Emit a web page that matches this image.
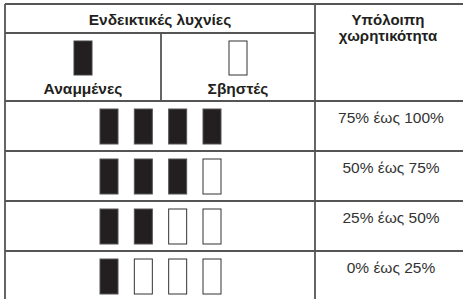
<!DOCTYPE html>
<html>
<head>
<meta charset="utf-8">
<script src="https://cdn.jsdelivr.net/npm/d3@7"></script>
<style>
  body { margin: 0; background: #fff; }
</style>
</head>
<body>
<div class="canvas"></div>
<script>
// table content
const headerTitle = "Ενδεικτικές λυχνίες";
const capacityTitle = ["Υπόλοιπη", "χωρητικότητα"];
const legendLabels = ["Αναμμένες", "Σβηστές"];
const litCounts = [4, 3, 2, 1];
const capacityLabels = ["75% έως 100%", "50% έως 75%", "25% έως 50%", "0% έως 25%"];
const lampSlots = [0, 1, 2, 3];

const width = 463;
const height = 299;
const lineColor = "#555555";
const lampFill = "#231f20";
const font = "'Liberation Sans', Arial, sans-serif";

const svg = d3
  .select(".canvas")
  .append("svg")
  .attr("width", width)
  .attr("height", height);

const leftX = 5;
const splitX = 161;
const capX = 315;
const topY = 4;
const headY = 33;
const subY = 101;

// rows
const yScale = d3
  .scaleBand()
  .domain(capacityLabels)
  .range([subY, subY + 50 * capacityLabels.length]);

const xLamp = d3
  .scaleLinear()
  .domain([0, 3])
  .range([100, 203]);

const lampW = 18;
const lampH = 35;

const grid = svg.append("g");

function hline(x1, x2, y) {
  grid
    .append("line")
    .attr("x1", x1)
    .attr("x2", x2)
    .attr("y1", y)
    .attr("y2", y)
    .attr("stroke", lineColor)
    .attr("stroke-width", 1.8);
}
function vline(x, y1, y2) {
  grid
    .append("line")
    .attr("x1", x)
    .attr("x2", x)
    .attr("y1", y1)
    .attr("y2", y2)
    .attr("stroke", lineColor)
    .attr("stroke-width", 1.8);
}

hline(leftX, width, topY);
hline(leftX, capX, headY);
hline(leftX, width, subY);
capacityLabels.slice(1).forEach((d) => hline(leftX, width, yScale(d)));
vline(leftX, topY, height + 5);
vline(capX, topY, height + 5);
vline(splitX, headY, subY);

// header texts
svg
  .append("text")
  .text(headerTitle)
  .attr("x", (leftX + capX) / 2)
  .attr("y", 25)
  .attr("text-anchor", "middle")
  .attr("font-family", font)
  .attr("font-weight", "bold")
  .attr("font-size", 15.5)
  .attr("fill", "#231f20");

svg
  .selectAll(".capTitle")
  .data(capacityTitle)
  .enter()
  .append("text")
  .text((d) => d)
  .attr("x", 388)
  .attr("y", (d, i) => 25 + i * 16)
  .attr("text-anchor", "middle")
  .attr("font-family", font)
  .attr("font-weight", "bold")
  .attr("font-size", 15)
  .attr("fill", "#231f20");

// legend lamps
const legendX = [(leftX + splitX) / 2, (splitX + capX) / 2];
svg
  .selectAll(".legLamp")
  .data(legendLabels)
  .enter()
  .append("rect")
  .attr("x", (d, i) => legendX[i] - lampW / 2)
  .attr("y", 41)
  .attr("width", lampW)
  .attr("height", 34)
  .attr("fill", (d, i) => (i === 0 ? lampFill : "#fff"))
  .attr("stroke", (d, i) => (i === 0 ? "#444" : "#333"))
  .attr("stroke-width", 1);

svg
  .selectAll(".legText")
  .data(legendLabels)
  .enter()
  .append("text")
  .text((d) => d)
  .attr("x", (d, i) => legendX[i])
  .attr("y", 94)
  .attr("text-anchor", "middle")
  .attr("font-family", font)
  .attr("font-weight", "bold")
  .attr("font-size", 15.5)
  .attr("fill", "#231f20");

// lamp rows
capacityLabels.forEach((label, r) => {
  const rowY = yScale(label);
  svg
    .selectAll(".lamp" + r)
    .data(lampSlots)
    .enter()
    .append("rect")
    .attr("x", (d) => xLamp(d))
    .attr("y", rowY + 8)
    .attr("width", lampW)
    .attr("height", lampH)
    .attr("fill", (d) => (d < litCounts[r] ? lampFill : "#fff"))
    .attr("stroke", (d) => (d < litCounts[r] ? "#555" : "#333"))
    .attr("stroke-width", 1);

  svg
    .append("text")
    .text(label)
    .attr("x", 391)
    .attr("y", rowY + 22)
    .attr("text-anchor", "middle")
    .attr("font-family", font)
    .attr("font-size", 15.5)
    .attr("fill", "#333");
});
</script>
</body>
</html>
